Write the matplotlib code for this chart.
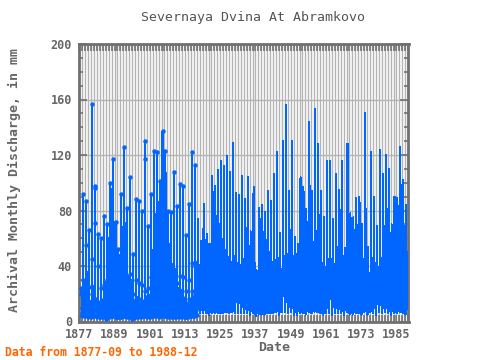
import numpy as np
import pandas as pd
import matplotlib
matplotlib.use("Agg")
import matplotlib.pyplot as plt
from matplotlib.ticker import MultipleLocator, FixedLocator

# monthly discharge (mm), Sep 1877 .. Dec 1988, one row per year (Jan..Dec)
q_1877_1899 = [
    20, 24, 10, 6,
    5, 4, 5, 18, 92, 30, 12, 9, 11, 15, 8, 5,
    5, 4, 5, 16, 87, 55, 13, 9, 10, 14, 8, 5,
    4, 3, 4, 12, 66, 25, 10, 7, 9, 12, 7, 4,
    4, 3, 4, 20, 157, 45, 14, 9, 11, 16, 9, 5,
    5, 4, 5, 98, 96, 71, 15, 10, 12, 16, 8, 5,
    4, 3, 4, 14, 63, 40, 11, 8, 10, 13, 7, 4,
    4, 3, 3, 13, 60, 24, 9, 6, 9, 11, 6, 4,
    4, 3, 4, 16, 76, 26, 11, 8, 9, 13, 7, 4,
    3, 2, 3, 15, 70, 30, 12, 8, 11, 15, 8, 5,
    4, 3, 4, 18, 100, 34, 13, 9, 10, 16, 8, 5,
    5, 4, 4, 22, 117, 38, 14, 9, 12, 18, 9, 5,
    4, 3, 4, 15, 72, 45, 11, 8, 10, 13, 7, 4,
    3, 3, 3, 12, 52, 22, 9, 6, 8, 11, 6, 3,
    4, 3, 4, 16, 92, 32, 12, 8, 10, 15, 8, 5,
    5, 4, 4, 20, 126, 42, 14, 10, 12, 18, 9, 5,
    4, 3, 4, 15, 82, 28, 11, 8, 10, 14, 8, 5,
    4, 3, 4, 18, 104, 34, 13, 9, 11, 16, 8, 5,
    3, 2, 3, 11, 49, 20, 8, 6, 7, 10, 6, 3,
    4, 3, 4, 16, 88, 30, 12, 8, 10, 15, 8, 5,
    4, 3, 4, 16, 87, 28, 11, 8, 10, 13, 7, 4,
    4, 3, 4, 15, 80, 26, 11, 7, 10, 13, 7, 4,
    5, 4, 5, 22, 130, 117, 15, 10, 12, 18, 9, 5,
]
q_1900_1929 = [
    4, 3, 4, 14, 69, 24, 10, 7, 9, 12, 6, 4,
    4, 3, 4, 16, 92, 32, 12, 8, 11, 15, 8, 5,
    5, 4, 4, 20, 123, 40, 14, 9, 12, 17, 8, 5,
    5, 4, 5, 21, 122, 42, 15, 10, 12, 17, 9, 5,
    4, 3, 4, 18, 101, 34, 13, 8, 11, 16, 8, 5,
    5, 4, 5, 24, 137, 46, 15, 10, 13, 19, 9, 5,
    5, 4, 4, 21, 123, 40, 14, 10, 12, 17, 8, 5,
    4, 3, 4, 15, 80, 26, 11, 7, 10, 13, 7, 4,
    4, 3, 4, 14, 79, 26, 11, 7, 9, 12, 6, 4,
    4, 3, 4, 18, 108, 36, 13, 9, 11, 16, 8, 5,
    4, 3, 4, 15, 83, 28, 11, 8, 10, 14, 7, 4,
    4, 3, 4, 17, 99, 33, 12, 8, 11, 15, 8, 5,
    4, 3, 4, 17, 98, 32, 12, 8, 11, 15, 8, 5,
    3, 3, 3, 13, 62, 22, 10, 7, 8, 11, 6, 4,
    4, 3, 4, 16, 85, 30, 12, 8, 10, 14, 7, 4,
    5, 4, 5, 22, 122, 42, 15, 10, 13, 18, 9, 5,
    5, 4, 4, 20, 113, 40, 14, 10, 12, 17, 8, 5,
    7, 6, 6, 36, 74, 48, 30, 24, 31, 40, 20, 9,
    7, 6, 6, 32, 58, 44, 28, 22, 29, 38, 19, 9,
    7, 6, 6, 38, 85, 50, 31, 25, 32, 42, 21, 10,
    7, 6, 6, 34, 63, 46, 29, 23, 30, 39, 20, 9,
    6, 5, 6, 32, 56, 42, 27, 21, 28, 36, 18, 8,
    7, 6, 7, 42, 105, 56, 32, 26, 33, 44, 22, 10,
    7, 6, 6, 40, 98, 54, 31, 25, 32, 42, 21, 10,
    7, 6, 7, 44, 109, 58, 33, 26, 34, 44, 22, 10,
    8, 6, 7, 46, 116, 60, 34, 27, 34, 46, 23, 11,
    7, 6, 7, 44, 112, 59, 33, 26, 33, 45, 22, 10,
    8, 7, 7, 46, 119, 61, 34, 27, 35, 46, 23, 11,
    7, 6, 7, 43, 108, 57, 32, 26, 33, 43, 22, 10,
    8, 7, 7, 49, 129, 64, 35, 28, 35, 47, 24, 11,
]
q_1930_1959 = [
    7, 6, 6, 40, 93, 52, 31, 25, 32, 42, 21, 10,
    7, 6, 6, 39, 91, 51, 31, 24, 31, 41, 21, 10,
    7, 6, 7, 42, 105, 56, 32, 26, 33, 44, 22, 10,
    7, 6, 6, 38, 88, 50, 30, 24, 31, 41, 20, 9,
    7, 6, 7, 42, 104, 55, 32, 25, 33, 43, 22, 10,
    6, 5, 6, 34, 65, 46, 28, 22, 29, 38, 19, 8,
    7, 6, 6, 40, 97, 53, 31, 25, 32, 42, 21, 10,
    5, 4, 5, 26, 37, 34, 22, 18, 23, 31, 15, 7,
    6, 5, 6, 37, 82, 49, 30, 24, 31, 40, 20, 9,
    6, 5, 6, 37, 84, 49, 30, 24, 31, 40, 20, 9,
    6, 5, 6, 36, 79, 48, 29, 23, 30, 39, 20, 9,
    7, 6, 6, 40, 94, 52, 31, 25, 32, 42, 21, 10,
    7, 6, 6, 38, 87, 50, 30, 24, 31, 41, 20, 9,
    7, 6, 7, 42, 106, 56, 32, 26, 33, 44, 22, 10,
    8, 7, 7, 48, 122, 62, 34, 27, 35, 46, 23, 11,
    6, 5, 6, 34, 64, 45, 28, 22, 29, 38, 19, 8,
    8, 7, 7, 50, 130, 64, 35, 28, 36, 47, 24, 11,
    8, 7, 8, 56, 156, 70, 37, 29, 37, 49, 25, 12,
    7, 6, 6, 40, 94, 52, 31, 25, 32, 42, 21, 10,
    8, 7, 7, 50, 130, 64, 35, 28, 36, 47, 24, 11,
    6, 5, 5, 32, 61, 42, 26, 21, 27, 36, 18, 8,
    6, 5, 5, 31, 56, 40, 25, 20, 26, 35, 17, 8,
    7, 6, 7, 42, 104, 55, 32, 26, 33, 43, 22, 10,
    7, 6, 6, 40, 97, 53, 31, 25, 32, 42, 21, 10,
    6, 5, 6, 36, 81, 48, 29, 23, 30, 39, 20, 9,
    8, 7, 8, 54, 144, 67, 36, 29, 37, 48, 24, 11,
    7, 6, 6, 40, 94, 52, 31, 25, 32, 42, 21, 10,
    8, 7, 8, 56, 153, 69, 37, 29, 37, 49, 25, 12,
    8, 7, 7, 49, 128, 102, 35, 28, 35, 47, 24, 11,
    7, 6, 6, 40, 94, 52, 31, 25, 32, 42, 21, 10,
]
q_1960_1988 = [
    6, 5, 6, 35, 75, 47, 29, 23, 30, 39, 20, 9,
    7, 6, 7, 45, 116, 60, 33, 27, 34, 45, 23, 10,
    7, 6, 7, 45, 116, 60, 33, 27, 34, 45, 23, 10,
    6, 5, 6, 35, 74, 47, 29, 23, 30, 39, 20, 9,
    7, 6, 7, 42, 106, 56, 32, 26, 33, 44, 22, 10,
    7, 6, 6, 40, 95, 52, 31, 25, 32, 42, 21, 10,
    7, 6, 7, 45, 116, 60, 33, 27, 34, 45, 23, 10,
    6, 5, 5, 31, 53, 40, 25, 20, 26, 35, 17, 8,
    8, 7, 7, 49, 128, 64, 35, 28, 35, 47, 24, 11,
    6, 5, 6, 36, 78, 48, 29, 23, 30, 39, 20, 9,
    6, 5, 6, 35, 75, 47, 29, 23, 30, 39, 20, 9,
    7, 6, 6, 39, 89, 51, 30, 24, 31, 41, 21, 10,
    7, 6, 6, 39, 90, 85, 31, 25, 32, 42, 21, 10,
    6, 5, 6, 34, 70, 47, 28, 22, 29, 38, 19, 9,
    8, 7, 8, 54, 150, 115, 37, 29, 37, 48, 24, 11,
    6, 5, 5, 31, 54, 40, 25, 20, 26, 35, 17, 8,
    8, 7, 7, 48, 122, 62, 34, 27, 35, 46, 23, 11,
    7, 6, 6, 39, 90, 89, 31, 25, 32, 42, 21, 10,
    6, 5, 6, 34, 69, 46, 28, 22, 29, 38, 19, 9,
    8, 7, 7, 48, 124, 62, 34, 27, 35, 46, 23, 11,
    7, 6, 7, 42, 106, 56, 32, 26, 33, 44, 22, 10,
    8, 7, 7, 47, 120, 61, 34, 27, 34, 46, 23, 11,
    7, 6, 7, 44, 110, 58, 33, 26, 33, 45, 22, 10,
    6, 5, 6, 34, 70, 47, 28, 22, 29, 38, 19, 9,
    7, 6, 6, 39, 90, 51, 31, 25, 32, 42, 21, 10,
    7, 6, 6, 39, 89, 51, 30, 24, 31, 41, 21, 10,
    8, 7, 7, 49, 126, 64, 35, 28, 35, 47, 24, 11,
    7, 6, 7, 41, 102, 55, 32, 26, 33, 43, 22, 10,
    6, 5, 6, 37, 84, 49, 30, 24, 31, 40, 20, 9,
]
tick_years = [1877, 1889, 1901, 1913, 1925, 1937, 1949, 1961, 1973, 1985]

values = np.array(q_1877_1899 + q_1900_1929 + q_1930_1959 + q_1960_1988, dtype=float)
dates = pd.date_range("1877-09-01", "1988-12-01", freq="MS")
t = dates.year + (dates.month - 1) / 12.0
n_marked = 4 + 39 * 12  # points up to 1916 drawn with markers

blue = "#0066ff"
frame = "#707070"
txt = "#666666"
mono = "DejaVu Sans Mono"

fig = plt.figure(figsize=(4.8, 3.6), dpi=100)
ax = fig.add_axes([79 / 480, 1 - 321.5 / 360, 329.5 / 480, 277.5 / 360])

ax.plot(t, values, color=blue, linewidth=0.75, marker="o", markersize=2.2,
        markevery=list(range(n_marked)), antialiased=False, zorder=3)

ax.set_xlim(1876.9, 1989.1)
ax.set_ylim(0, 200)

ax.xaxis.set_major_locator(FixedLocator(tick_years))
ax.xaxis.set_minor_locator(MultipleLocator(1))
ax.yaxis.set_major_locator(MultipleLocator(40))
ax.yaxis.set_minor_locator(MultipleLocator(10))

ax.grid(which="both", axis="x", color="#b4b4b4", linewidth=1, zorder=0)
ax.grid(which="major", axis="y", color="#b4b4b4", linewidth=1, zorder=0)
ax.set_axisbelow(True)

ax.tick_params(axis="x", which="both", direction="in", length=5, width=1.2,
               color=frame, top=True, bottom=True, pad=5)
ax.tick_params(axis="y", which="major", direction="in", length=6, width=1.2,
               color=frame, left=True, right=True, pad=5)
ax.tick_params(axis="y", which="minor", direction="in", length=3, width=1.2,
               color=frame, left=True, right=True)
for lab in ax.get_xticklabels() + ax.get_yticklabels():
    lab.set_fontfamily(mono)
    lab.set_fontsize(8.5)
    lab.set_color(txt)
    lab.set_fontweight("bold")

for sp in ax.spines.values():
    sp.set_color(frame)
    sp.set_linewidth(2)

fig.text(253 / 480, 1 - 17.5 / 360, "Severnaya Dvina At Abramkovo", ha="center",
         va="center", fontsize=9.5, family=mono, color="#555555")
fig.text(274 / 480, 1 - 347.5 / 360, "Date", ha="center", va="center",
         fontsize=9.5, family=mono, color=txt, fontweight="bold")
fig.text(14 / 480, 1 - 180 / 360, "Archival Monthly Discharge, in mm", ha="center",
         va="center", rotation=90, fontsize=9.5, family=mono, color=txt,
         fontweight="bold")
fig.text(5 / 480, 1 - 352.5 / 360, "Data from 1877-09 to 1988-12", ha="left",
         va="center", fontsize=8.3, family=mono, color="#ff6600", fontweight="bold")

fig.savefig("out.png", dpi=100)
